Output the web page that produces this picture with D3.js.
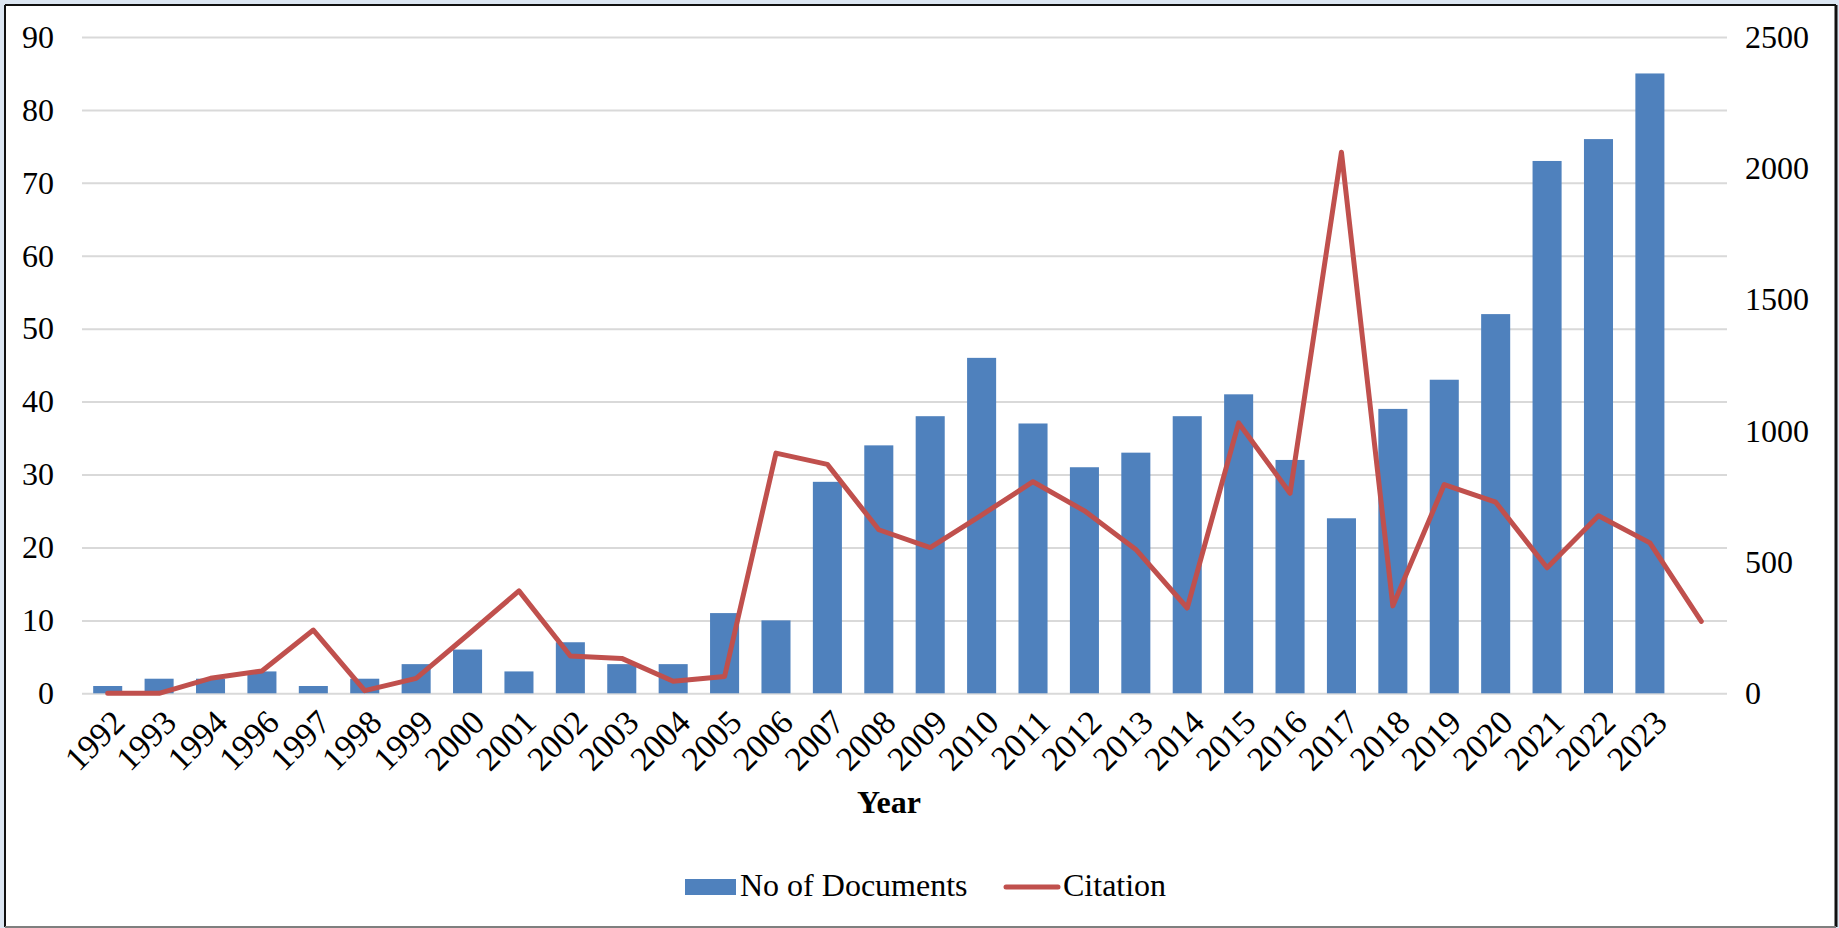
<!DOCTYPE html>
<html>
<head>
<meta charset="utf-8">
<script src="https://cdn.jsdelivr.net/npm/d3@7"></script>
<style>
  html, body { margin: 0; padding: 0; overflow: hidden; background: #dce6f2; }
  svg { display: block; }
  text { font-family: "Times New Roman", "Liberation Serif", Times, serif; fill: #000; }
</style>
</head>
<body>
<svg id="chart" width="1839" height="928"></svg>
<script>
// Publication years (1995 has no entry; the final slot carries only a citation point)
const years = ["1992","1993","1994","1996","1997","1998","1999","2000","2001","2002",
  "2003","2004","2005","2006","2007","2008","2009","2010","2011","2012","2013","2014",
  "2015","2016","2017","2018","2019","2020","2021","2022","2023",""];

// Number of documents per year (left axis)
const documents = [1,2,2,3,1,2,4,6,3,7,4,4,11,10,29,34,38,46,37,31,33,38,41,32,24,39,43,52,73,76,85,null];

// Citations per year (right axis)
const citations = [0,0,57,85,241,10,57,222,390,142,133,46,64,915,872,623,555,679,806,695,548,325,
  1030,762,2061,333,795,728,478,676,573,274];

const leftTicks = [0,10,20,30,40,50,60,70,80,90];
const rightTicks = [0,500,1000,1500,2000,2500];

const seriesNames = ["No of Documents", "Citation"];
const barColor = "#4f81bd";
const lineColor = "#c0504d";
const fontSize = 32;
const yearFontSize = 34;

const W = 1839, H = 928;
const plot = { left: 82, right: 1727, top: 37, bottom: 693.3 };

const svg = d3.select("#chart");

// Frame of the chart area
svg.append("rect").attr("x", 0).attr("y", 0).attr("width", W).attr("height", H).attr("fill", "#dce6f2");
svg.append("rect").attr("x", 5).attr("y", 5).attr("width", 1831).attr("height", 922).attr("fill", "#fff");
svg.append("line").attr("x1", 5).attr("x2", 5).attr("y1", 5).attr("y2", 927).attr("stroke", "#111").attr("stroke-width", 2);
svg.append("line").attr("x1", 5).attr("x2", 1836).attr("y1", 5).attr("y2", 5).attr("stroke", "#111").attr("stroke-width", 2);
svg.append("line").attr("x1", 1836).attr("x2", 1836).attr("y1", 5).attr("y2", 927).attr("stroke", "#111").attr("stroke-width", 3);
svg.append("line").attr("x1", 5).attr("x2", 1836).attr("y1", 927).attr("y2", 927).attr("stroke", "#7f7f7f").attr("stroke-width", 2);

// Scales
const x = d3.scaleBand().domain(d3.range(years.length)).range([plot.left, plot.right]).padding(0);
const bw = x.bandwidth();
const yL = d3.scaleLinear().domain([0, 90]).range([plot.bottom, plot.top]);
const yR = d3.scaleLinear().domain([0, 2500]).range([plot.bottom, plot.top]);

// Horizontal gridlines from the left axis
const grid = svg.append("g")
  .attr("transform", `translate(${plot.left},0)`)
  .call(d3.axisLeft(yL).tickValues(leftTicks).tickSize(-(plot.right - plot.left)).tickFormat(""));
grid.select(".domain").remove();
grid.selectAll("line").attr("stroke", "#d9d9d9").attr("stroke-width", 2);

// Left axis labels
const axL = svg.append("g")
  .attr("transform", `translate(${plot.left},0)`)
  .call(d3.axisLeft(yL).tickValues(leftTicks).tickSize(0).tickPadding(28));
axL.select(".domain").remove();
axL.attr("font-family", null).attr("font-size", null);
axL.selectAll("text").style("font-size", fontSize + "px");

// Right axis labels
const axR = svg.append("g")
  .attr("transform", `translate(${plot.right},0)`)
  .call(d3.axisRight(yR).tickValues(rightTicks).tickFormat(d3.format("d")).tickSize(0).tickPadding(18));
axR.select(".domain").remove();
axR.attr("font-family", null).attr("font-size", null);
axR.selectAll("text").style("font-size", fontSize + "px");

// Bars: documents
const barFrac = 0.565;
svg.append("g").selectAll("rect")
  .data(documents.map((v, i) => ({ i, v })).filter(d => d.v != null))
  .join("rect")
  .attr("x", d => x(d.i) + bw * (1 - barFrac) / 2)
  .attr("width", bw * barFrac)
  .attr("y", d => yL(d.v))
  .attr("height", d => yL(0) - yL(d.v))
  .attr("fill", barColor);

// Line: citations
const line = d3.line()
  .x((v, i) => x(i) + bw / 2)
  .y(v => yR(v));
svg.append("path")
  .datum(citations)
  .attr("d", line)
  .attr("fill", "none")
  .attr("stroke", lineColor)
  .attr("stroke-width", 5)
  .attr("stroke-linejoin", "round")
  .attr("stroke-linecap", "round");

// Category axis with rotated year labels
const axB = svg.append("g")
  .attr("transform", `translate(0,${plot.bottom})`)
  .call(d3.axisBottom(x).tickFormat(i => years[i]).tickSize(0));
axB.select(".domain").remove();
axB.attr("font-family", null).attr("font-size", null);
axB.selectAll(".tick").attr("transform", i => `translate(${x(i) + bw / 2 + 2},14)`);
axB.selectAll("text")
  .style("font-size", yearFontSize + "px")
  .attr("y", 0)
  .attr("dy", "0.71em")
  .attr("text-anchor", "end")
  .attr("transform", "rotate(-45)");

// Axis title
svg.append("text")
  .attr("x", 889).attr("y", 813)
  .attr("text-anchor", "middle")
  .style("font-size", fontSize + "px")
  .style("font-weight", "bold")
  .text("Year");

// Legend
const legend = svg.append("g");
legend.append("rect").attr("x", 685).attr("y", 879).attr("width", 51).attr("height", 16).attr("fill", barColor);
legend.append("text").attr("x", 740).attr("y", 896).style("font-size", fontSize + "px").text(seriesNames[0]);
legend.append("line").attr("x1", 1006).attr("x2", 1058).attr("y1", 887).attr("y2", 887)
  .attr("stroke", lineColor).attr("stroke-width", 5).attr("stroke-linecap", "round");
legend.append("text").attr("x", 1063).attr("y", 896).style("font-size", fontSize + "px").text(seriesNames[1]);
</script>
</body>
</html>
